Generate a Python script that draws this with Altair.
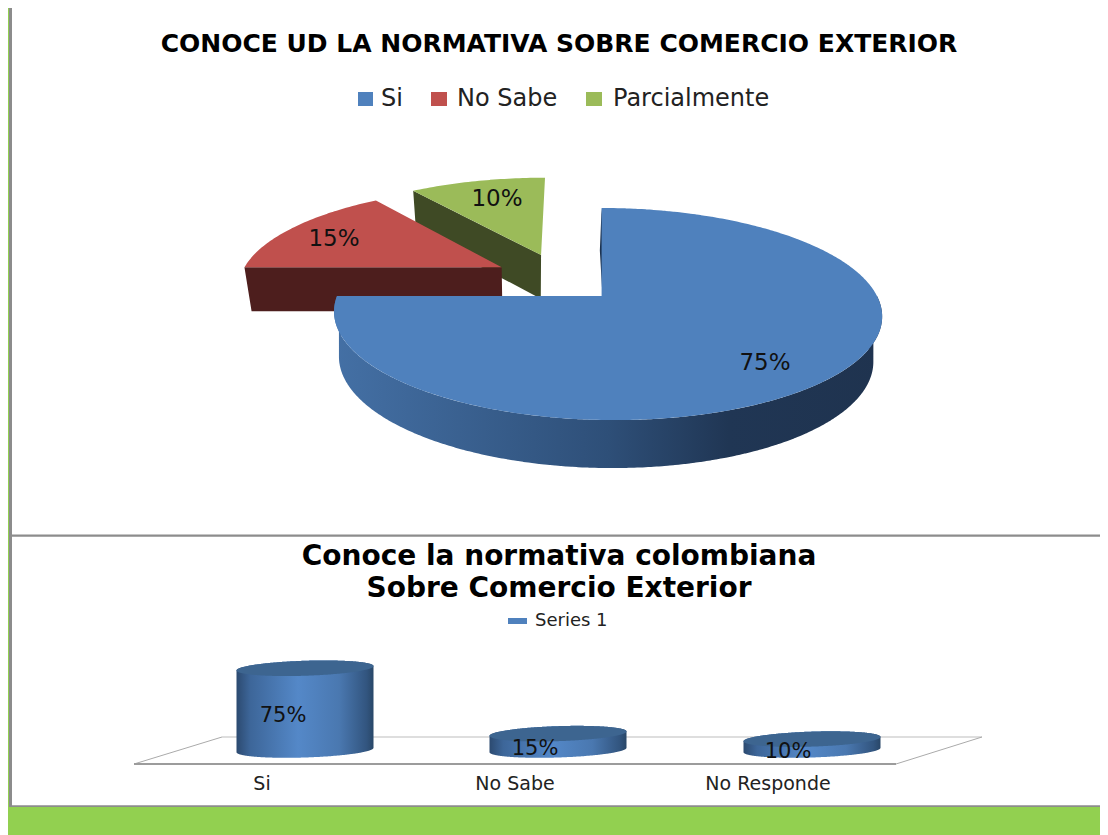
import numpy as np
import pandas as pd
import altair as alt

# ---- values ----
pie_title = "CONOCE UD LA NORMATIVA SOBRE COMERCIO EXTERIOR"
pie_categories = ["Si", "No Sabe", "Parcialmente"]
pie_values = [75, 15, 10]
pie_labels = ["75%", "15%", "10%"]

bar_title = ["Conoce la normativa colombiana", "Sobre Comercio Exterior"]
bar_series = "Series 1"
bar_categories = ["Si", "No Sabe", "No Responde"]
bar_values = [75, 15, 10]
bar_labels = ["75%", "15%", "10%"]

# ---- style ----
BLUE, RED, GREEN = "#4F81BD", "#C0504D", "#9BBB59"
PAGE_GREEN, GREY = "#92D050", "#8C8C8C"
W, H = 1092, 827
X = alt.Scale(domain=[8, 1100], nice=False, zero=False)
Y = alt.Scale(domain=[835, 8], nice=False, zero=False)


def xenc(f="x"):
    return alt.X(f"{f}:Q", scale=X, axis=None)


def yenc(f="y"):
    return alt.Y(f"{f}:Q", scale=Y, axis=None)


def band(poly):
    """Turn a closed outline into the x / y / y2 table of an area mark."""
    p = np.asarray(poly, dtype=float)
    q = np.roll(p, -1, axis=0)
    lo, hi = p[:, 0].min(), p[:, 0].max()
    xs = np.unique(np.concatenate([p[:, 0], p[:, 0] - 0.02, p[:, 0] + 0.02]))
    xs = xs[(xs >= lo) & (xs <= hi)]
    rows = []
    for x in xs:
        ys = []
        for (ax, ay), (bx, by) in zip(p, q):
            if min(ax, bx) <= x <= max(ax, bx):
                if ax == bx:
                    ys += [ay, by]
                else:
                    ys.append(ay + (by - ay) * (x - ax) / (bx - ax))
        if ys:
            rows.append({"x": round(float(x), 2), "y": round(min(ys), 2), "y2": round(max(ys), 2)})
    return pd.DataFrame(rows)


def area(poly, fill):
    return alt.Chart(band(poly)).mark_area(color=fill, interpolate="linear").encode(
        x=xenc(), y=yenc(), y2=alt.Y2("y2:Q")
    )


def hgrad(stops):
    return alt.Gradient(
        gradient="linear", x1=0, x2=1, y1=0, y2=0,
        stops=[alt.GradientStop(offset=o, color=c) for o, c in stops],
    )


def rect(x, x2, y, y2, fill):
    d = pd.DataFrame([{"x": x, "x2": x2, "y": y, "y2": y2}])
    return alt.Chart(d).mark_rect(color=fill).encode(
        x=xenc(), x2=alt.X2("x2:Q"), y=yenc(), y2=alt.Y2("y2:Q")
    )


def seg(x, y, x2, y2, color, width):
    d = pd.DataFrame([{"x": x, "x2": x2, "y": y, "y2": y2}])
    return alt.Chart(d).mark_rule(color=color, strokeWidth=width).encode(
        x=xenc(), x2=alt.X2("x2:Q"), y=yenc(), y2=alt.Y2("y2:Q")
    )


def text(s, x, y, size, weight="normal", font="DejaVu Sans", color="#111111", align="center"):
    d = pd.DataFrame([{"x": x, "y": y, "t": s}])
    return alt.Chart(d).mark_text(
        font=font, fontSize=size, fontWeight=weight, color=color, align=align, baseline="middle"
    ).encode(x=xenc(), y=yenc(), text="t:N")


# ---- perspective pie: slice angles come from the values ----
KP, RX, RY, VX, BX, CY = 0.17, 270.0, 103.0, 570.0, 37.0, 296.0


def project(u, v):
    den = 1 - KP * v
    return VX + (RX * u + BX) / den, CY + RY * v / den


def lower(pt):
    x, y = pt
    return x + 0.025 * (530 - x), y + 44 + 0.026 * (y - 267)


def rim(a0, a1, du=0.0, dv=0.0):
    return [
        project(du + np.sin(np.radians(a)), dv - np.cos(np.radians(a)))
        for a in np.linspace(a0, a1, int(abs(a1 - a0)) + 2)
    ]


cum = np.cumsum([0] + pie_values) / sum(pie_values) * 360
offsets = [(0.0, 0.0), (-0.4027, -0.2926), (-0.252, -0.427)]
apex = [project(*o) for o in offsets]
rims = [rim(cum[i], cum[i + 1], *offsets[i]) for i in range(3)]

layers = [
    # page furniture
    rect(8, 1100, 806, 835, PAGE_GREEN),
    rect(8, 9, 8, 806, PAGE_GREEN),
    rect(9, 12, 8, 806, GREY),
    rect(12, 1100, 534.5, 536.8, GREY),
    rect(9, 1100, 805.2, 807, GREY),
]

# green slice
g = rims[2]
layers += [
    area([g[0], apex[2], lower(apex[2]), lower(g[0])], "#3F4A25"),
    area([apex[2]] + g, GREEN),
]
# red slice
r = rims[1]
layers += [
    area([r[0], apex[1], lower(apex[1]), lower(r[0])], "#4D1E1D"),
    area([apex[1]] + r, RED),
]
# blue slice
b = rims[0]
front = rim(cum[1], 90)  # visible rim, from the left end to the right end
layers += [
    area(front + [lower(p) for p in front[::-1]],
         hgrad([(0, "#4470A5"), (0.5, "#2E4F78"), (0.72, "#203654"), (1, "#1F334F")])),
    area([b[0], apex[0], lower(apex[0]), lower(b[0])], "#1C3350"),
    area([apex[0]] + b, BLUE),
]

layers += [
    text(pie_labels[0], 765, 363, 23),
    text(pie_labels[1], 334, 239, 23),
    text(pie_labels[2], 497, 199, 23),
    text(pie_title, 559, 44, 25, weight="bold", color="#000000"),
]

# pie legend
legend_x = [(358, 373, 381), (431, 447, 457), (586, 602, 613)]
for (x0, x1, tx), name, col in zip(legend_x, pie_categories, [BLUE, RED, GREEN]):
    layers.append(rect(x0, x1, 92, 106, col))
    layers.append(text(name, tx, 99, 24, align="left", color="#222222"))

# ---- floor of the cylinder chart ----
layers += [
    seg(222, 737, 982, 737, "#BDBDBD", 1),
    seg(134, 764, 222, 737, "#AAAAAA", 1),
    seg(896, 764, 982, 737, "#AAAAAA", 1),
    seg(134, 764, 896, 764, "#9C9C9C", 2),
]

# ---- cylinders: heights come from the values ----
CYL_RX, CYL_RY, CYL_TILT, BASE_Y, PX = 68.5, 7.5, -0.032, 750.0, 1.09
centres = [305.0, 558.0, 812.0]
body = hgrad([(0, "#2C4A70"), (0.1, "#3D6699"), (0.45, "#5488C8"),
              (0.75, "#4A78B0"), (0.95, "#32557F"), (1, "#294768")])


def cap(cx, cy, a0=0.0, a1=360.0):
    t = np.radians(np.linspace(a0, a1, int(abs(a1 - a0)) + 1))
    xs = CYL_RX * np.cos(t)
    ys = CYL_RY * np.sin(t)
    return [(cx + x, cy + y + CYL_TILT * x) for x, y in zip(xs, ys)]


for cx, v in zip(centres, bar_values):
    top = BASE_Y - v * PX
    bottom_edge = cap(cx, BASE_Y, 0, 180)
    top_edge = cap(cx, top, 180, 360)
    layers.append(area(bottom_edge + top_edge, body))
    layers.append(area(cap(cx, top)[:-1], "#3D6590"))

layers += [
    text(bar_labels[0], 283, 716, 21),
    text(bar_labels[1], 535, 749, 21),
    text(bar_labels[2], 788, 752, 21),
    text(bar_categories[0], 262, 784, 19, color="#222222"),
    text(bar_categories[1], 515, 784, 19, color="#222222"),
    text(bar_categories[2], 768, 784, 19, color="#222222"),
    text(bar_title[0], 559, 557, 28, weight="bold", color="#000000"),
    text(bar_title[1], 559, 589, 28, weight="bold", color="#000000"),
    rect(508, 527, 618, 624, BLUE),
    text(bar_series, 535, 621, 18, align="left", color="#222222"),
]

chart = (
    alt.layer(*layers)
    .properties(width=W, height=H, padding=0, autosize="none", background="white")
    .configure_view(stroke=None)
)
chart.save("out.html", embed_options={"renderer": "svg", "actions": False})
